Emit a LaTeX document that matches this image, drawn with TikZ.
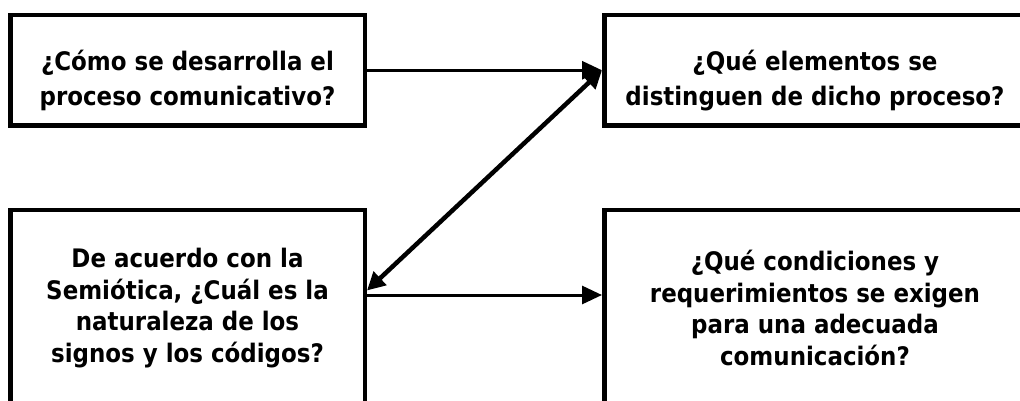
\documentclass[tikz,border=0pt]{standalone}
\usepackage{fontspec}
\setmainfont{DejaVu Sans Condensed}
\usetikzlibrary{arrows.meta}
\newcommand{\lowerby}{\rule{0pt}{40pt}}
\begin{document}
\begin{tikzpicture}[x=1pt,y=-1pt,
  qbox/.style={draw,line width=4.5pt,inner sep=0pt,align=center},
  upfont/.style={font=\bfseries\fontsize{25.5}{35}\selectfont},
  lowfont/.style={font=\bfseries\fontsize{25.5}{31.5}\selectfont},
  link/.style={line width=3pt,-{Triangle[length=20pt,width=18pt]}},
  dlink/.style={line width=4.5pt,{Triangle[length=18pt,width=18pt]}-{Triangle[length=18pt,width=18pt]}}
]
\useasboundingbox (0,0) rectangle (1020,400);
\clip (0,0) rectangle (1020,400);
\node[qbox,upfont,minimum width=354.5pt,minimum height=110.5pt] (b1) at (187.5,70.25)
  {\lowerby¿Cómo se desarrolla el\\proceso comunicativo?};
\node[qbox,upfont,minimum width=421.5pt,minimum height=110.5pt] (b2) at (815,70.25)
  {\lowerby¿Qué elementos se\\distinguen de dicho proceso?};
\node[qbox,lowfont,minimum width=354.5pt,minimum height=196.5pt] (b3) at (187.5,308)
  {De acuerdo con la\\Semiótica, ¿Cuál es la\\naturaleza de los\\signos y los códigos?};
\node[qbox,lowfont,minimum width=421.5pt,minimum height=196.5pt] (b4) at (815,308)
  {¿Qué condiciones y\\requerimientos se exigen\\para una adecuada\\comunicación?};
\draw[link] (b1.east) -- (b2.west);
\draw[link] ([yshift=-87.5pt]b3.north east) -- ([yshift=-87.5pt]b4.north west);
\draw[dlink] ([yshift=-83pt]b3.north east) -- (b2.west);
\end{tikzpicture}
\end{document}
